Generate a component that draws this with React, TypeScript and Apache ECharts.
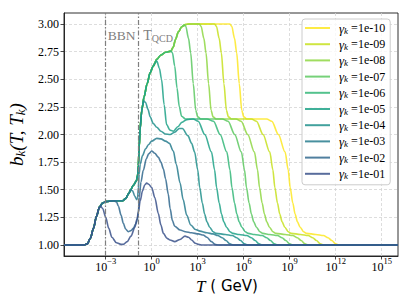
import { useEffect, useRef } from 'react';
import * as echarts from 'echarts';

// axis extents in log10(T / GeV) and b_k
const X_MIN = -5.72;
const X_MAX = 16.06;
const Y_MIN = 0.9;
const Y_MAX = 3.1;
const X_TICKS = [-3, 0, 3, 6, 9, 12, 15];
const Y_TICKS = [1.0, 1.25, 1.5, 1.75, 2.0, 2.25, 2.5, 2.75, 3.0];

const BBN_LOGT = -3;
const QCD_LOGT = -0.87;
const BBN_LABEL = [-2.87, 2.9];
const QCD_LABEL = [-0.55, 2.9];

const GAMMA = ['1e-10', '1e-09', '1e-08', '1e-07', '1e-06', '1e-05', '1e-04', '1e-03', '1e-02', '1e-01'];
const COLORS = ['#fde725', '#c7e020', '#8fd744', '#5ec962', '#35b779', '#1fa287', '#21918c', '#287c8e', '#31688e', '#3b528b'];

// common rising branch shared by the curves (log10 T, b)
const ENVELOPE = [
  [-5.72, 1.0], [-4.4, 1.0], [-4.2, 1.01], [-4.0, 1.06], [-3.8, 1.15], [-3.6, 1.26], [-3.4, 1.345], [-3.2, 1.38],
  [-3.0, 1.392], [-2.5, 1.4], [-1.9, 1.4], [-1.7, 1.42], [-1.5, 1.465], [-1.37, 1.5], [-1.2, 1.54], [-1.0, 1.58],
  [-0.92, 1.63], [-0.87, 1.72], [-0.82, 1.88], [-0.76, 2.05], [-0.65, 2.22], [-0.5, 2.34], [-0.3, 2.46], [-0.1, 2.56],
  [0.1, 2.62], [0.33, 2.68], [0.6, 2.72], [0.9, 2.745], [1.25, 2.755], [1.4, 2.79], [1.55, 2.86], [1.74, 2.93],
  [1.96, 2.975], [2.2, 2.995], [2.45, 3.0],
];

// where each curve leaves the shared branch, and its own points afterwards
const DEPART = [2.45, 2.45, 2.45, 1.96, 1.25, 0.1, -0.82, -1.37, -2.5, -3.6];

const TAIL_1E10 = [
  [5.1, 3.0], [5.22, 2.98], [5.4, 2.87], [5.54, 2.74], [5.71, 2.46], [5.87, 2.22], [6.0, 2.16], [6.2, 2.14], [7.5, 2.14],
  [7.83, 2.12], [8.26, 2.0], [8.7, 1.84], [8.9, 1.68], [9.03, 1.52], [9.2, 1.38], [9.35, 1.28], [9.5, 1.21], [9.68, 1.16],
  [9.9, 1.12], [10.1, 1.105], [10.7, 1.095], [11.2, 1.085], [11.5, 1.065], [11.74, 1.04], [12.0, 1.01], [12.2, 1.0], [16.06, 1.0],
];
const TAIL_1E09 = [
  [4.1, 3.0], [4.22, 2.98], [4.4, 2.87], [4.54, 2.74], [4.71, 2.46], [4.87, 2.22], [5.0, 2.16], [5.2, 2.14], [6.5, 2.14],
  [6.83, 2.12], [7.26, 2.0], [7.7, 1.84], [7.9, 1.68], [8.03, 1.52], [8.2, 1.38], [8.35, 1.28], [8.5, 1.21], [8.68, 1.16],
  [8.9, 1.12], [9.1, 1.105], [9.7, 1.095], [10.2, 1.085], [10.5, 1.065], [10.74, 1.04], [11.0, 1.01], [11.2, 1.0], [16.06, 1.0],
];
const TAIL_1E08 = [
  [3.1, 3.0], [3.22, 2.98], [3.4, 2.87], [3.54, 2.74], [3.71, 2.46], [3.87, 2.22], [4.0, 2.16], [4.2, 2.14], [5.5, 2.14],
  [5.83, 2.12], [6.26, 2.0], [6.7, 1.84], [6.9, 1.68], [7.03, 1.52], [7.2, 1.38], [7.35, 1.28], [7.5, 1.21], [7.68, 1.16],
  [7.9, 1.12], [8.1, 1.105], [8.7, 1.095], [9.2, 1.085], [9.5, 1.065], [9.74, 1.04], [10.0, 1.01], [10.2, 1.0], [16.06, 1.0],
];
const TAIL_1E07 = [
  [2.1, 2.99], [2.22, 2.98], [2.4, 2.87], [2.54, 2.74], [2.71, 2.46], [2.87, 2.22], [3.0, 2.16], [3.2, 2.14], [4.6, 2.14],
  [4.98, 2.12], [5.41, 2.0], [5.85, 1.84], [6.05, 1.68], [6.18, 1.52], [6.35, 1.38], [6.5, 1.28], [6.65, 1.21], [6.83, 1.16],
  [7.05, 1.12], [7.25, 1.105], [7.7, 1.095], [8.2, 1.085], [8.5, 1.065], [8.74, 1.04], [9.0, 1.01], [9.2, 1.0], [16.06, 1.0],
];
const TAIL_1E06 = [
  [1.35, 2.74], [1.5, 2.62], [1.65, 2.42], [1.8, 2.25], [1.95, 2.165], [2.2, 2.14], [3.6, 2.14],
  [4.03, 2.12], [4.46, 2.0], [4.9, 1.84], [5.1, 1.68], [5.23, 1.52], [5.4, 1.38], [5.55, 1.28], [5.7, 1.21], [5.88, 1.16],
  [6.1, 1.12], [6.3, 1.105], [6.7, 1.095], [7.2, 1.085], [7.5, 1.065], [7.74, 1.04], [8.0, 1.01], [8.2, 1.0], [16.06, 1.0],
];
const TAIL_1E05 = [
  [0.2, 2.645], [0.33, 2.665], [0.5, 2.6], [0.64, 2.5], [0.81, 2.27], [0.97, 2.09], [1.19, 2.04], [1.41, 2.03], [1.7, 2.07],
  [1.96, 2.11], [2.3, 2.135], [2.7, 2.14], [3.03, 2.12], [3.46, 2.0], [3.9, 1.84], [4.1, 1.68], [4.23, 1.52], [4.4, 1.38],
  [4.55, 1.28], [4.7, 1.21], [4.88, 1.16], [5.1, 1.12], [5.3, 1.105], [5.7, 1.095], [6.2, 1.085], [6.5, 1.065], [6.74, 1.04],
  [7.0, 1.01], [7.2, 1.0], [16.06, 1.0],
];
const TAIL_1E04 = [
  [-0.76, 2.04], [-0.68, 2.17], [-0.6, 2.26], [-0.52, 2.305], [-0.4, 2.29], [-0.25, 2.23], [-0.1, 2.16], [0.1, 2.1],
  [0.33, 2.065], [0.6, 2.03], [0.9, 2.005], [1.2, 2.0], [1.5, 2.02], [1.8, 2.055], [2.0, 2.055], [2.36, 1.99], [2.6, 1.92],
  [2.8, 1.84], [3.0, 1.68], [3.13, 1.52], [3.3, 1.38], [3.45, 1.28], [3.6, 1.21], [3.78, 1.16], [4.0, 1.12], [4.2, 1.105],
  [4.8, 1.095], [5.25, 1.085], [5.55, 1.065], [5.79, 1.04], [6.05, 1.01], [6.25, 1.0], [16.06, 1.0],
];
const TAIL_1E03 = [
  [-1.25, 1.49], [-1.1, 1.44], [-0.98, 1.41], [-0.92, 1.43], [-0.87, 1.52], [-0.82, 1.64], [-0.75, 1.73], [-0.6, 1.81],
  [-0.4, 1.87], [-0.2, 1.91], [0.0, 1.94], [0.33, 1.965], [0.6, 1.96], [0.9, 1.94], [1.15, 1.92], [1.41, 1.85], [1.6, 1.73],
  [1.85, 1.56], [2.05, 1.41], [2.28, 1.27], [2.55, 1.18], [2.85, 1.14], [3.15, 1.125], [3.6, 1.11], [4.0, 1.1], [4.3, 1.085],
  [4.6, 1.065], [4.84, 1.04], [5.1, 1.01], [5.3, 1.0], [16.06, 1.0],
];
const TAIL_1E02 = [
  [-2.3, 1.39], [-2.17, 1.35], [-2.0, 1.27], [-1.85, 1.195], [-1.7, 1.145], [-1.53, 1.12], [-1.35, 1.13], [-1.2, 1.15],
  [-1.05, 1.19], [-0.94, 1.225], [-0.87, 1.29], [-0.81, 1.435], [-0.7, 1.57], [-0.55, 1.675], [-0.35, 1.78], [-0.2, 1.825],
  [0.0, 1.85], [0.2, 1.83], [0.43, 1.795], [0.6, 1.75], [0.76, 1.69], [0.9, 1.6], [1.08, 1.46], [1.2, 1.33], [1.35, 1.22],
  [1.5, 1.17], [1.85, 1.135], [2.2, 1.12], [2.6, 1.11], [3.04, 1.1], [3.35, 1.09], [3.6, 1.07], [3.9, 1.03], [4.13, 1.005],
  [4.35, 1.0], [16.06, 1.0],
];
const TAIL_1E01 = [
  [-3.45, 1.33], [-3.33, 1.35], [-3.2, 1.33], [-3.0, 1.25], [-2.8, 1.15], [-2.6, 1.07], [-2.3, 1.02], [-2.0, 1.005],
  [-1.85, 1.005], [-1.6, 1.03], [-1.35, 1.08], [-1.1, 1.16], [-0.95, 1.24], [-0.87, 1.3], [-0.75, 1.4], [-0.6, 1.49],
  [-0.45, 1.545], [-0.33, 1.56], [-0.2, 1.55], [0.0, 1.52], [0.2, 1.43], [0.43, 1.285], [0.6, 1.18], [0.76, 1.105],
  [1.0, 1.06], [1.19, 1.045], [1.5, 1.03], [1.85, 1.05], [2.17, 1.08], [2.4, 1.07], [2.6, 1.045], [2.85, 1.015],
  [3.05, 1.005], [3.3, 1.0], [16.06, 1.0],
];

const TAILS = [TAIL_1E10, TAIL_1E09, TAIL_1E08, TAIL_1E07, TAIL_1E06, TAIL_1E05, TAIL_1E04, TAIL_1E03, TAIL_1E02, TAIL_1E01];

const SERIF = 'Liberation Serif';

function supText(v: number): string {
  return v < 0 ? '\u2212' + String(-v) : String(v);
}

export default function App() {
  const ref = useRef<HTMLDivElement>(null);

  useEffect(() => {
    const el = ref.current;
    if (!el) return;
    const chart = echarts.init(el, undefined, { renderer: 'svg' });

    const series: any[] = TAILS.map((tail, i) => ({
      name: GAMMA[i],
      type: 'line',
      data: [...ENVELOPE.filter((p) => p[0] <= DEPART[i]), ...tail],
      showSymbol: false,
      symbol: 'none',
      smooth: 0.3,
      smoothMonotone: 'x',
      silent: true,
      color: COLORS[i],
      itemStyle: { color: COLORS[i], opacity: 0.85 },
      lineStyle: { color: COLORS[i], width: 1.6, opacity: 0.85 },
      emphasis: { disabled: true },
      markLine:
        i === 0
          ? {
              silent: true,
              symbol: ['none', 'none'],
              label: { show: false },
              emphasis: { disabled: true },
              lineStyle: { color: '#7f7f7f', width: 1.2, type: [5, 2, 1.5, 2], opacity: 1 },
              data: [{ xAxis: BBN_LOGT }, { xAxis: QCD_LOGT }],
            }
          : undefined,
    }));

    const axisColor = '#1a1a1a';
    const gridLine = { show: true, lineStyle: { color: '#d4d4d4', width: 0.8, type: [3, 2] } };

    chart.setOption({
      animation: false,
      backgroundColor: '#ffffff',
      grid: {
        left: 64,
        top: 13,
        width: 334,
        height: 243,
        show: true,
        borderColor: axisColor,
        borderWidth: 0.9,
        backgroundColor: 'transparent',
        containLabel: false,
        outerBoundsMode: 'none',
      },
      xAxis: {
        type: 'value',
        min: X_MIN,
        max: X_MAX,
        axisLine: { show: true, onZero: false, lineStyle: { color: axisColor, width: 0.9 } },
        axisTick: { show: true, length: 3.5, customValues: X_TICKS, lineStyle: { color: axisColor, width: 0.8 } },
        axisLabel: {
          show: true,
          customValues: X_TICKS,
          margin: 0,
          formatter: (v: number) => `{b|10}{s|${supText(v)}}`,
          rich: {
            b: { fontFamily: SERIF, fontSize: 12, verticalAlign: 'bottom', color: '#000' },
            s: { fontFamily: SERIF, fontSize: 8.5, verticalAlign: 'bottom', padding: [0, 0, 8, 0], color: '#000' },
          },
        },
        splitLine: gridLine,
        name: '{i|T}{n| ( GeV)}',
        nameLocation: 'middle',
        nameGap: 17,
        nameTextStyle: {
          color: '#000',
          padding: [0, 8, 0, 0],
          rich: {
            i: { fontFamily: SERIF, fontStyle: 'italic', fontSize: 17, lineHeight: 18, color: '#000' },
            n: { fontFamily: 'DejaVu Sans', fontSize: 15, lineHeight: 18, color: '#000' },
          },
        },
      },
      yAxis: {
        type: 'value',
        min: Y_MIN,
        max: Y_MAX,
        axisLine: { show: true, onZero: false, lineStyle: { color: axisColor, width: 0.9 } },
        axisTick: { show: true, length: 3.5, customValues: Y_TICKS, lineStyle: { color: axisColor, width: 0.8 } },
        axisLabel: {
          show: true,
          customValues: Y_TICKS,
          margin: 5,
          formatter: (v: number) => v.toFixed(2),
          fontFamily: SERIF,
          fontSize: 12,
          color: '#000',
        },
        splitLine: gridLine,
        name: '{i|b}{s|k}{i|(T, T}{s|k}{i|)}',
        nameLocation: 'middle',
        nameGap: 36,
        nameTextStyle: {
          color: '#000',
          rich: {
            i: { fontFamily: SERIF, fontStyle: 'italic', fontSize: 19, lineHeight: 22, color: '#000' },
            s: { fontFamily: SERIF, fontStyle: 'italic', fontSize: 13, lineHeight: 12, verticalAlign: 'bottom', color: '#000' },
          },
        },
      },
      legend: {
        orient: 'vertical',
        left: 302,
        top: 19,
        padding: [2, 5, 4, 3],
        itemGap: 2.2,
        itemWidth: 25,
        itemHeight: 2,
        icon: 'rect',
        selectedMode: false,
        backgroundColor: 'rgba(255,255,255,0.8)',
        borderColor: '#cccccc',
        borderWidth: 1,
        borderRadius: 3,
        data: GAMMA,
        formatter: (name: string) => `{g|\u03b3}{k|k}{n| =${name}}`,
        textStyle: {
          fontFamily: SERIF,
          fontSize: 12,
          lineHeight: 14,
          color: '#000',
          rich: {
            g: { fontFamily: SERIF, fontStyle: 'italic', fontSize: 13, lineHeight: 14, padding: [0, 0, 0, 4], color: '#000' },
            k: { fontFamily: SERIF, fontStyle: 'italic', fontSize: 9, lineHeight: 9, verticalAlign: 'bottom', color: '#000' },
            n: { fontFamily: SERIF, fontSize: 12, lineHeight: 14, color: '#000' },
          },
        },
      },
      series,
    });

    const pB = chart.convertToPixel({ gridIndex: 0 }, BBN_LABEL) as number[];
    const pQ = chart.convertToPixel({ gridIndex: 0 }, QCD_LABEL) as number[];
    chart.setOption({
      graphic: [
        {
          type: 'text',
          x: pB[0],
          y: pB[1],
          silent: true,
          z: 10,
          style: {
            text: 'BBN',
            fill: '#808080',
            fontFamily: SERIF,
            fontSize: 13.5,
            align: 'left',
            verticalAlign: 'middle',
          },
        },
        {
          type: 'text',
          x: pQ[0],
          y: pQ[1],
          silent: true,
          z: 10,
          style: {
            text: '{t|T}{s|QCD}',
            fill: '#808080',
            align: 'left',
            verticalAlign: 'middle',
            rich: {
              t: { fontFamily: SERIF, fontSize: 14, lineHeight: 16, fill: '#808080' },
              s: { fontFamily: SERIF, fontSize: 10, lineHeight: 10, verticalAlign: 'bottom', fill: '#808080' },
            },
          },
        },
      ],
    });

    return () => {
      chart.dispose();
    };
  }, []);

  return (
    <div
      ref={ref}
      style={{ position: 'fixed', left: 0, top: 0, width: 411, height: 308, background: '#ffffff' }}
    />
  );
}
